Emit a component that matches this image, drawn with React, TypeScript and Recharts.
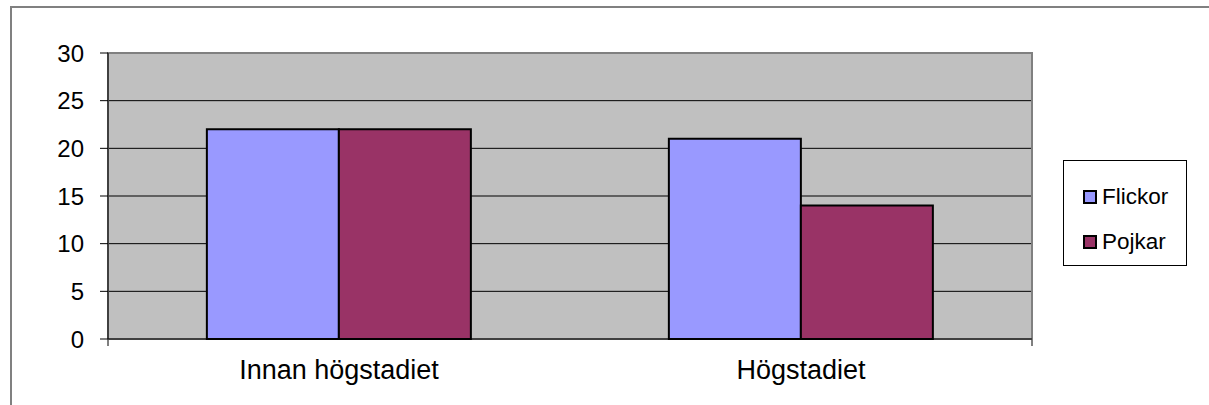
import { BarChart, Bar, XAxis, YAxis, CartesianGrid, Legend, ReferenceArea } from "recharts"

// Categories and values
const categories = ["Innan högstadiet", "Högstadiet"]
const flickor = [22, 21]
const pojkar = [22, 14]
const yTicks = [0, 5, 10, 15, 20, 25, 30]
const edgeTicks = [0, 1, 2]

const data = categories.map((name, i) => ({ name, Flickor: flickor[i], Pojkar: pojkar[i] }))

const FONT = "'Liberation Sans', Arial, sans-serif"

const legendItems = [
  { label: "Flickor", color: "#9999ff" },
  { label: "Pojkar", color: "#993366" },
]

function LegendBox() {
  return (
    <div style={{ fontFamily: FONT, fontSize: 22.5, color: "#000", paddingTop: 17 }}>
      {legendItems.map((item) => (
        <div key={item.label} style={{ display: "flex", alignItems: "center", height: 52, marginTop: -7 }}>
          <span
            style={{
              display: "inline-block",
              width: 10,
              height: 10,
              marginLeft: 19,
              marginRight: 5,
              background: item.color,
              border: "2px solid #000",
            }}
          />
          <span>{item.label}</span>
        </div>
      ))}
    </div>
  )
}

export default function App() {
  return (
    <div style={{ position: "absolute", top: 0, left: 0, width: 1209, height: 405, overflow: "hidden", background: "#fff" }}>
      <div
        style={{
          position: "absolute",
          left: 10,
          top: 6,
          width: 1400,
          height: 600,
          borderLeft: "2px solid #808080",
          borderTop: "2px solid #808080",
        }}
      />
      <div style={{ position: "absolute", top: 0, left: 0 }}>
        <BarChart
          width={1209}
          height={405}
          data={data}
          margin={{ top: 53, right: 177, left: 8, bottom: 0 }}
          barCategoryGap="21.4%"
          barGap={0}
        >
          <CartesianGrid vertical={false} fill="#c0c0c0" fillOpacity={1} stroke="#000" strokeWidth={1} />
          <ReferenceArea y1={0} y2={30} fill="none" stroke="#808080" strokeWidth={2} ifOverflow="extendDomain" />
          <XAxis
            dataKey="name"
            height={1}
            axisLine={{ stroke: "#000", strokeWidth: 1 }}
            tickLine={false}
            tickSize={6}
            tickMargin={15}
            tick={{ fill: "#000", fontSize: 27, fontFamily: FONT }}
          />
          <XAxis
            xAxisId="edge"
            type="number"
            domain={[0, 2]}
            allowDataOverflow
            ticks={edgeTicks}
            interval={0}
            height={65}
            axisLine={false}
            tick={() => <g />}
            tickSize={6}
            tickLine={{ stroke: "#000" }}
          />
          <YAxis
            width={100}
            domain={[0, 30]}
            ticks={yTicks}
            interval={0}
            axisLine={{ stroke: "#000", strokeWidth: 1 }}
            tickLine={{ stroke: "#000" }}
            tickSize={8}
            tickMargin={16}
            tick={{ fill: "#000", fontSize: 24, fontFamily: FONT }}
          />
          <Legend
            layout="horizontal"
            align="center"
            verticalAlign="middle"
            content={<LegendBox />}
            wrapperStyle={{
              position: "absolute",
              left: 1063,
              top: 160,
              width: 124,
              height: 106,
              border: "1px solid #000",
              background: "#fff",
              boxSizing: "border-box",
            }}
          />
          <Bar dataKey="Flickor" fill="#9999ff" stroke="#000" strokeWidth={2} isAnimationActive={false} />
          <Bar dataKey="Pojkar" fill="#993366" stroke="#000" strokeWidth={2} isAnimationActive={false} />
        </BarChart>
      </div>
    </div>
  )
}
